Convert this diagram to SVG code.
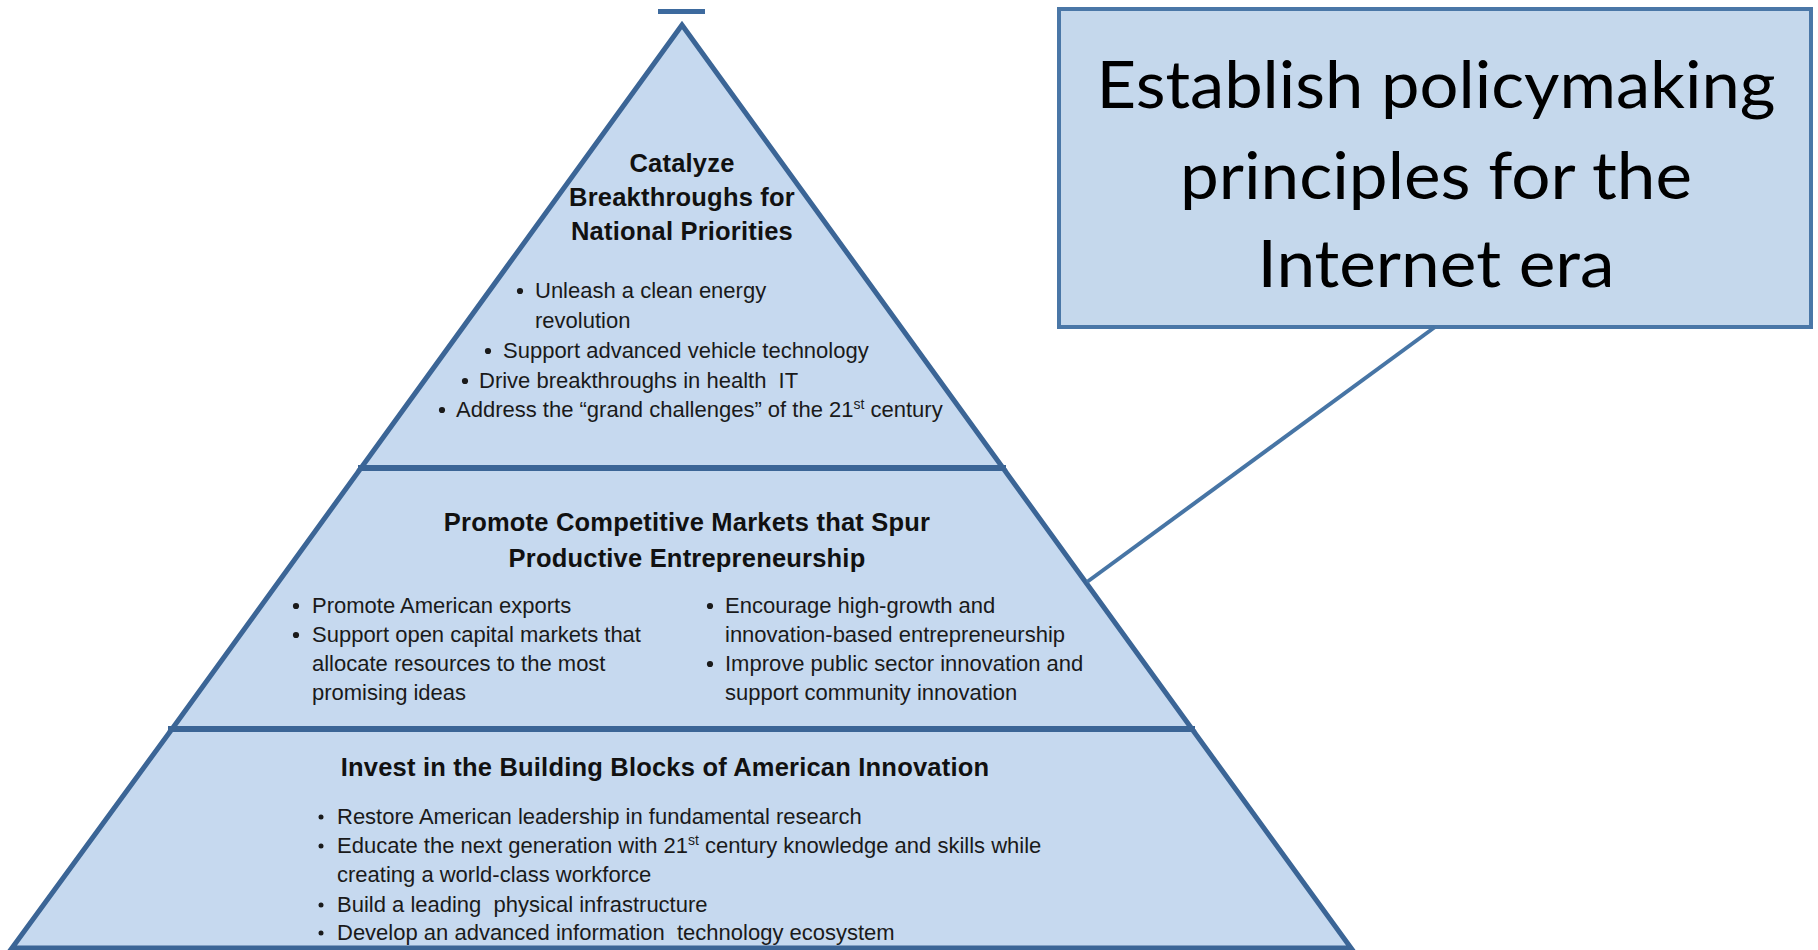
<svg xmlns="http://www.w3.org/2000/svg" width="1818" height="950" viewBox="0 0 1818 950">
<style>
.tier{fill:#c6d9ef;stroke:#3b6596;stroke-width:5;stroke-linejoin:miter}
.div{stroke:#3b6596;stroke-width:6}
.ttl{font-family:"Liberation Sans",Arial,sans-serif;font-weight:bold;font-size:25.5px;letter-spacing:0.2px;fill:#111;text-anchor:middle}
.txt{font-family:"Liberation Sans",Arial,sans-serif;font-size:22px;fill:#1a1a1a;white-space:pre}
.sup{font-size:14px}
.dot{fill:#1a1a1a}
.box{fill:#c5d8ec;stroke:#4a77a7;stroke-width:4}
.big{font-family:Lato,"Open Sans",sans-serif;font-size:66px;fill:#000;text-anchor:middle}
.conn{stroke:#4775a5;stroke-width:4;fill:none}
</style>
<rect x="658" y="9" width="47" height="5" fill="#3d6a9e"/>
<g id="tier-top">
<polygon class="tier" points="682,25 361,468 1003,468"/>
<text class="ttl" x="682" y="172">Catalyze</text>
<text class="ttl" x="682" y="206">Breakthroughs for</text>
<text class="ttl" x="682" y="240">National Priorities</text>
<circle class="dot" cx="520" cy="291" r="3.1"/>
<text class="txt" x="535" y="298">Unleash a clean energy</text>
<text class="txt" x="535" y="328">revolution</text>
<circle class="dot" cx="488" cy="351" r="3.1"/>
<text class="txt" x="503" y="358">Support advanced vehicle technology</text>
<circle class="dot" cx="465" cy="381" r="3.1"/>
<text class="txt" x="479" y="388">Drive breakthroughs in health  IT</text>
<circle class="dot" cx="442" cy="410" r="3.1"/>
<text class="txt" x="456" y="417">Address the “grand challenges” of the 21<tspan class="sup" dy="-8">st</tspan><tspan dy="8"> century</tspan></text>
</g>
<g id="tier-middle">
<polygon class="tier" points="361,468 1003,468 1192,729 172,729"/>
<text class="ttl" x="687" y="531">Promote Competitive Markets that Spur</text>
<text class="ttl" x="687" y="567">Productive Entrepreneurship</text>
<circle class="dot" cx="296" cy="606" r="3.1"/>
<text class="txt" x="312" y="613">Promote American exports</text>
<circle class="dot" cx="296" cy="635" r="3.1"/>
<text class="txt" x="312" y="642">Support open capital markets that</text>
<text class="txt" x="312" y="671">allocate resources to the most</text>
<text class="txt" x="312" y="700">promising ideas</text>
<circle class="dot" cx="710" cy="606" r="3.1"/>
<text class="txt" x="725" y="613">Encourage high-growth and</text>
<text class="txt" x="725" y="642">innovation-based entrepreneurship</text>
<circle class="dot" cx="710" cy="664" r="3.1"/>
<text class="txt" x="725" y="671">Improve public sector innovation and</text>
<text class="txt" x="725" y="700">support community innovation</text>
</g>
<g id="tier-bottom">
<polygon class="tier" points="172,729 1192,729 1351,948 12,948"/>
<text class="ttl" x="665" y="776">Invest in the Building Blocks of American Innovation</text>
<circle class="dot" cx="321" cy="817" r="2.5"/>
<text class="txt" x="337" y="824">Restore American leadership in fundamental research</text>
<circle class="dot" cx="321" cy="846" r="2.5"/>
<text class="txt" x="337" y="853">Educate the next generation with 21<tspan class="sup" dy="-8">st</tspan><tspan dy="8"> century knowledge and skills while</tspan></text>
<text class="txt" x="337" y="882">creating a world-class workforce</text>
<circle class="dot" cx="321" cy="905" r="2.5"/>
<text class="txt" x="337" y="912">Build a leading  physical infrastructure</text>
<circle class="dot" cx="321" cy="933" r="2.5"/>
<text class="txt" x="337" y="940">Develop an advanced information  technology ecosystem</text>
</g>
<line class="div" x1="358" y1="468" x2="1006" y2="468"/>
<line class="div" x1="168" y1="729" x2="1195" y2="729"/>
<g id="callout">
<rect class="box" x="1059" y="9" width="752" height="318"/>
<text class="big" x="1436" y="108" textLength="679" lengthAdjust="spacingAndGlyphs">Establish policymaking</text>
<text class="big" x="1436" y="199" textLength="512" lengthAdjust="spacingAndGlyphs">principles for the</text>
<text class="big" x="1436" y="287" textLength="357" lengthAdjust="spacingAndGlyphs">Internet era</text>
</g>
<g id="connectors">
<line class="conn" x1="1435" y1="327" x2="1087" y2="582"/>
</g>
</svg>
